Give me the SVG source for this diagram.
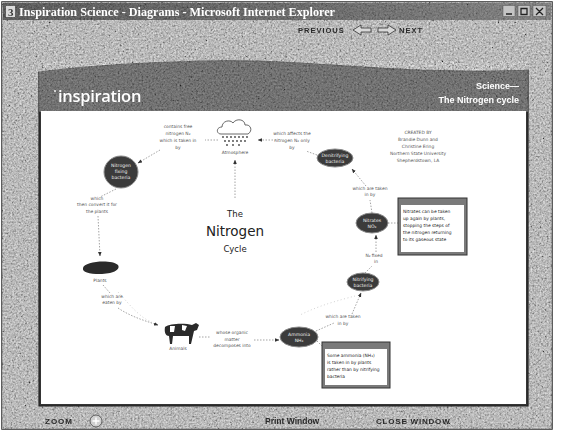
<svg xmlns="http://www.w3.org/2000/svg" width="564" height="432" viewBox="0 0 564 432">
  <defs>
    <filter id="grain" x="0" y="0" width="100%" height="100%">
      <feTurbulence type="fractalNoise" baseFrequency="0.55" numOctaves="4" seed="7" result="n"/>
      <feColorMatrix in="n" type="matrix" values="0.7 0.7 0.7 0 -0.5  0.7 0.7 0.7 0 -0.5  0.7 0.7 0.7 0 -0.5  0 0 0 0 0.7"/>
    </filter>
    <filter id="soft" x="-5%" y="-5%" width="110%" height="110%">
      <feGaussianBlur stdDeviation="0.35"/>
    </filter>
    <linearGradient id="titleGrad" x1="0" y1="0" x2="1" y2="0">
      <stop offset="0" stop-color="#262626"/>
      <stop offset="0.6" stop-color="#404040"/>
      <stop offset="1" stop-color="#5e5e5e"/>
    </linearGradient>
    <marker id="arrow" viewBox="0 0 10 10" refX="9" refY="5" markerWidth="5" markerHeight="5" orient="auto-start-reverse">
      <path d="M0,1 L10,5 L0,9 Z" fill="#333"/>
    </marker>
    <style>
      .ui { font-family: "Liberation Sans", Arial, sans-serif; font-weight: bold; }
      .node { fill: #3b3b3b; stroke: #8a8a8a; stroke-width: 1; }
      .nt { font-family: "DejaVu Sans", sans-serif; font-size: 4.6px; fill: #f2f2f2; text-anchor: middle; }
      .lbl { font-family: "DejaVu Sans", sans-serif; font-size: 4.4px; fill: #555; text-anchor: middle; }
      .note { font-family: "DejaVu Sans", sans-serif; font-size: 4.4px; fill: #222; }
      .link { fill: none; stroke: #9a9a9a; stroke-width: 0.9; stroke-dasharray: 1.5 1.5; }
      .link-arrow { fill: none; stroke: #9a9a9a; stroke-width: 0.9; stroke-dasharray: 1.5 1.5; marker-end: url(#arrow); }
      .faint { fill: none; stroke: #d2d2d2; stroke-width: 1; stroke-dasharray: 1 2.5; }
    </style>
  </defs>

  <!-- page around the window -->
  <rect x="0" y="0" width="564" height="432" fill="#ffffff"/>

  <!-- window frame with granite texture -->
  <g id="window" filter="url(#soft)">
    <rect x="2" y="2" width="550" height="427" fill="#a0a0a0" stroke="#2a2a2a" stroke-width="1.5"/>
    <rect x="2" y="2" width="550" height="427" filter="url(#grain)"/>

    <!-- title bar -->
    <rect x="3" y="3" width="548" height="17" fill="url(#titleGrad)"/>
    <rect x="3" y="3" width="548" height="17" filter="url(#grain)" opacity="0.5"/>
    <rect x="6" y="6" width="9" height="11" fill="#dcdcdc"/>
    <text x="8" y="15.5" font-family="Liberation Serif, serif" font-weight="bold" font-size="11" fill="#333">3</text>
    <text x="19" y="15.5" font-family="Liberation Serif, serif" font-weight="bold" font-size="12" fill="#ffffff" textLength="316" lengthAdjust="spacingAndGlyphs">Inspiration Science - Diagrams - Microsoft Internet Explorer</text>
    <rect x="503" y="5.5" width="12" height="11" fill="#c4c4c4" stroke="#555" stroke-width="0.5"/>
    <rect x="518" y="5.5" width="12" height="11" fill="#c4c4c4" stroke="#555" stroke-width="0.5"/>
    <rect x="533" y="5.5" width="13" height="11" fill="#c4c4c4" stroke="#555" stroke-width="0.5"/>
    <path d="M506,14 h6 M521,8.5 h6 v6 h-6 Z M536,8 l7,7 M543,8 l-7,7" stroke="#222" stroke-width="1.3" fill="none"/>

    <!-- previous / next navigation -->
    <text x="298" y="33" class="ui" font-size="7.5" letter-spacing="1" fill="#2a2a2a">PREVIOUS</text>
    <path d="M353,30 l8,-5 v3 h10 v4 h-10 v3 Z" fill="#d8d8d8" stroke="#333" stroke-width="0.8"/>
    <path d="M396,30 l-8,-5 v3 h-10 v4 h10 v3 Z" fill="#d8d8d8" stroke="#333" stroke-width="0.8"/>
    <text x="399" y="33" class="ui" font-size="7.5" letter-spacing="1" fill="#2a2a2a">NEXT</text>

    <!-- content panel -->
    <path d="M39,72 C110,63 220,58 300,63 C380,68 450,74 528,70 L528,406 L39,406 Z" fill="#363636" stroke="#222" stroke-width="1.2"/>
    <path d="M39,72 C110,63 220,58 300,63 C380,68 450,74 528,70 L528,112 L39,112 Z" filter="url(#grain)" opacity="0.6"/>
    <rect x="41" y="111" width="485" height="293" fill="#ffffff"/>
    <text x="58" y="102" font-family="Open Sans, sans-serif" font-weight="600" font-size="16.5" fill="#ffffff" letter-spacing="-0.3">inspiration</text>
    <circle cx="55" cy="91" r="0.9" fill="#ffffff"/>
    <text x="519" y="89" class="ui" font-size="9" fill="#ffffff" text-anchor="end">Science—</text>
    <text x="519" y="103" class="ui" font-size="9" fill="#ffffff" text-anchor="end">The Nitrogen cycle</text>

    <!-- bottom toolbar -->
    <text x="45" y="424" class="ui" font-size="8" letter-spacing="1" fill="#2a2a2a">ZOOM</text>
    <circle cx="96" cy="421" r="6" fill="#cfcfcf" stroke="#444" stroke-width="0.8"/>
    <path d="M96,417.5 v7 M92.5,421 h7" stroke="#ffffff" stroke-width="1.4"/>
    <text x="265" y="424" class="ui" font-size="8.5" fill="#2a2a2a">Print Window</text>
    <text x="376" y="424" class="ui" font-size="8" letter-spacing="0.8" fill="#2a2a2a">CLOSE WINDOW</text>
  </g>

  <!-- connectors -->
  <g id="connectors">
    <path class="faint" d="M118,292 C130,305 140,318 152,322"/>
    <path class="faint" d="M355,296 C340,300 320,305 300,315"/>
    <path class="link" d="M218,140 L205,140"/>
    <path class="link-arrow" d="M160,150 L138,163"/>
    <path class="link" d="M116,189 L100,197"/>
    <path class="link-arrow" d="M98,216 L100,256"/>
    <path class="link" d="M103,285 L110,293"/>
    <path class="link-arrow" d="M118,308 C130,316 142,320 158,325"/>
    <path class="link" d="M199,337 L211,337"/>
    <path class="link-arrow" d="M254,340 L279,340"/>
    <path class="link" d="M316,331 L334,323"/>
    <path class="link-arrow" d="M352,314 L361,293"/>
    <path class="link" d="M365,273 L372,266"/>
    <path class="link-arrow" d="M376,252 L376,235"/>
    <path class="link" d="M372,213 L370,200"/>
    <path class="link-arrow" d="M366,186 L352,169"/>
    <path class="link" d="M317,155 L306,151"/>
    <path class="link-arrow" d="M276,140 L258,140"/>
    <path class="link-arrow" d="M235,198 L235,160"/>
    <path class="link" d="M388,223 L398,223"/>
    <path class="link" d="M317,341 L322,346"/>
  </g>

  <!-- link phrases -->
  <g id="phrases">
    <text class="lbl" x="178" y="128">contains free</text>
    <text class="lbl" x="178" y="135">nitrogen N₂</text>
    <text class="lbl" x="178" y="142">which is taken in</text>
    <text class="lbl" x="178" y="149">by</text>
    <text class="lbl" x="292" y="135">which affects the</text>
    <text class="lbl" x="292" y="142">nitrogen N₂ only</text>
    <text class="lbl" x="292" y="149">by</text>
    <text class="lbl" x="370" y="190">which are taken</text>
    <text class="lbl" x="370" y="196">in by</text>
    <text class="lbl" x="374" y="257">N₂ fixed</text>
    <text class="lbl" x="376" y="263">in</text>
    <text class="lbl" x="343" y="318">which are taken</text>
    <text class="lbl" x="343" y="325">in by</text>
    <text class="lbl" x="232" y="334">whose organic</text>
    <text class="lbl" x="232" y="341">matter</text>
    <text class="lbl" x="232" y="347">decomposes into</text>
    <text class="lbl" x="112" y="298">which are</text>
    <text class="lbl" x="112" y="304">eaten by</text>
    <text class="lbl" x="97" y="200">which</text>
    <text class="lbl" x="97" y="206">then convert it for</text>
    <text class="lbl" x="97" y="213">the plants</text>
  </g>

  <!-- credit -->
  <g id="credit">
    <text class="lbl" x="418" y="134">CREATED BY</text>
    <text class="lbl" x="418" y="141">Brandie Dunn and</text>
    <text class="lbl" x="418" y="148">Christine Ering</text>
    <text class="lbl" x="418" y="155">Northern State University</text>
    <text class="lbl" x="418" y="162">Shepherdstown, LA</text>
  </g>

  <!-- centre title -->
  <g id="node-cycle">
    <text x="235" y="217" font-family="DejaVu Sans, sans-serif" font-size="8.5" fill="#222" text-anchor="middle">The</text>
    <text x="235" y="236" font-family="DejaVu Sans, sans-serif" font-size="13.5" fill="#222" text-anchor="middle">Nitrogen</text>
    <text x="235" y="252" font-family="DejaVu Sans, sans-serif" font-size="8.5" fill="#222" text-anchor="middle">Cycle</text>
  </g>

  <!-- atmosphere -->
  <g id="node-atmosphere">
    <path d="M221,134 C216,134 216,127 222,127 C222,121 230,119 233,123 C236,118 245,119 245,125 C251,124 253,131 248,134 Z" fill="#ffffff" stroke="#444" stroke-width="0.8"/>
    <g fill="#444">
      <circle cx="223" cy="137" r="0.9"/><circle cx="227" cy="137" r="0.9"/><circle cx="231" cy="137" r="0.9"/><circle cx="235" cy="137" r="0.9"/><circle cx="239" cy="137" r="0.9"/><circle cx="243" cy="137" r="0.9"/><circle cx="247" cy="137" r="0.9"/>
      <circle cx="225" cy="141" r="0.9"/><circle cx="229" cy="141" r="0.9"/><circle cx="233" cy="141" r="0.9"/><circle cx="237" cy="141" r="0.9"/><circle cx="241" cy="141" r="0.9"/><circle cx="245" cy="141" r="0.9"/>
      <circle cx="227" cy="145" r="0.9"/><circle cx="233" cy="145" r="0.9"/><circle cx="239" cy="145" r="0.9"/>
    </g>
    <text class="lbl" x="235" y="154">Atmosphere</text>
  </g>

  <!-- concept nodes -->
  <g id="node-fixing">
    <ellipse class="node" cx="121" cy="172" rx="17" ry="16"/>
    <text class="nt" x="121" y="167">Nitrogen</text>
    <text class="nt" x="121" y="173">fixing</text>
    <text class="nt" x="121" y="179">bacteria</text>
  </g>
  <g id="node-denitrifying">
    <ellipse class="node" cx="335" cy="158" rx="18" ry="9"/>
    <text class="nt" x="335" y="156.5">Denitrifying</text>
    <text class="nt" x="335" y="162.5">bacteria</text>
  </g>
  <g id="node-nitrates">
    <ellipse class="node" cx="372" cy="223" rx="16" ry="10"/>
    <text class="nt" x="372" y="221.5">Nitrates</text>
    <text class="nt" x="372" y="227.5">NO₃</text>
  </g>
  <g id="node-nitrifying">
    <ellipse class="node" cx="363" cy="282" rx="16" ry="9"/>
    <text class="nt" x="363" y="280.5">Nitrifying</text>
    <text class="nt" x="363" y="286.5">bacteria</text>
  </g>
  <g id="node-ammonia">
    <ellipse class="node" cx="299" cy="337" rx="19" ry="10"/>
    <text class="nt" x="299" y="335.5">Ammonia</text>
    <text class="nt" x="299" y="341.5">NH₃</text>
  </g>

  <!-- animals -->
  <g id="node-animals">
    <path d="M165,327 C170,323 186,323 192,325 L196,323 L199,325 L197,330 L194,331 C193,335 192,340 191,344 L189,344 L189,336 L173,336 L172,344 L170,344 L169,336 C166,336 164,333 165,327 Z" fill="#2a2a2a"/>
    <path d="M170,326 l5,0 l-1,6 l-4,0 Z M182,325 l5,1 l-2,5 l-3,-1 Z" fill="#ffffff"/>
    <text class="lbl" x="178" y="350">Animals</text>
  </g>

  <!-- plants -->
  <g id="node-plants">
    <path d="M83,268 C84,261 112,259 118,265 C121,270 112,274 100,274 C89,274 82,272 83,268 Z" fill="#2b2b2b"/>
    <text class="lbl" x="100" y="282">Plants</text>
  </g>

  <!-- notes -->
  <g id="note-nitrates">
    <rect x="398" y="198" width="69" height="57" fill="#7a7a7a" stroke="#333" stroke-width="1"/>
    <rect x="401" y="205" width="63" height="47" fill="#ffffff"/>
    <text class="note" x="403" y="213">Nitrates can be taken</text>
    <text class="note" x="403" y="220">up again by plants,</text>
    <text class="note" x="403" y="227">stopping the steps of</text>
    <text class="note" x="403" y="234">the nitrogen returning</text>
    <text class="note" x="403" y="241">to its gaseous state</text>
  </g>
  <g id="note-ammonia">
    <rect x="322" y="342" width="68" height="46" fill="#7a7a7a" stroke="#333" stroke-width="1"/>
    <rect x="325" y="349" width="62" height="36" fill="#ffffff"/>
    <text class="note" x="327" y="357">Some ammonia (NH₃)</text>
    <text class="note" x="327" y="364">is taken in by plants</text>
    <text class="note" x="327" y="371">rather than by nitrifying</text>
    <text class="note" x="327" y="378">bacteria</text>
  </g>
</svg>
